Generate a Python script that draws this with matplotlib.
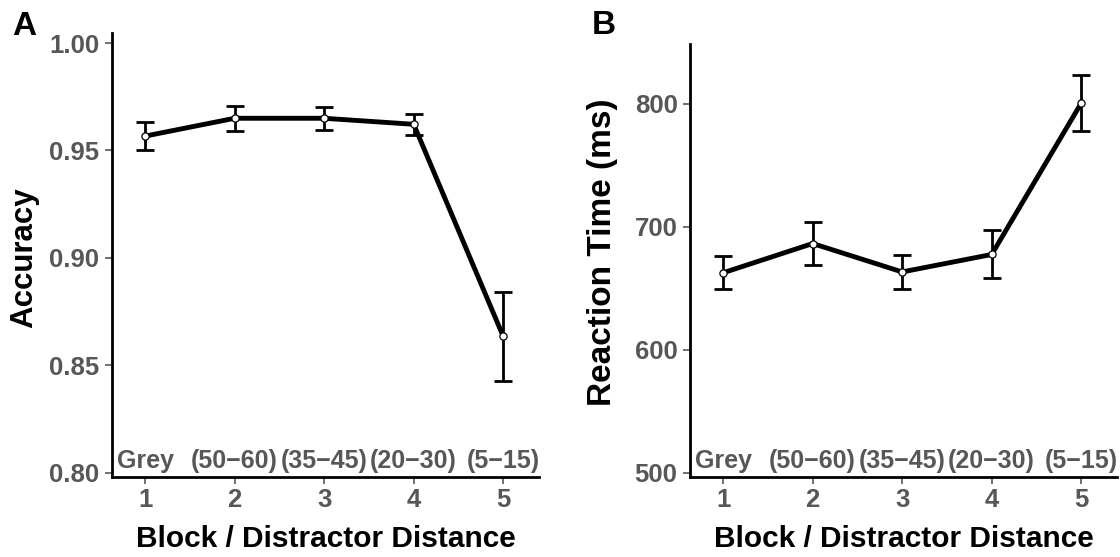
import matplotlib
matplotlib.use("Agg")
import matplotlib.pyplot as plt

plt.rcParams['font.family'] = ['Liberation Sans', 'DejaVu Sans']

blocks = [1, 2, 3, 4, 5]
conditions = ["Grey", "(50−60)", "(35−45)", "(20−30)", "(5−15)"]
acc_mean = [0.9567, 0.9650, 0.9650, 0.9622, 0.8635]
acc_err = [0.0066, 0.0058, 0.0054, 0.0050, 0.0206]
rt_mean = [662.5, 686.3, 663.2, 677.4, 800.4]
rt_err = [13.5, 17.5, 14.0, 19.5, 23.0]
acc_ticks = [0.80, 0.85, 0.90, 0.95, 1.00]
rt_ticks = [500, 600, 700, 800]

GREY = "#575757"
W, H = 1120, 557

fig = plt.figure(figsize=(11.2, 5.57), dpi=100)
axA = fig.add_axes([112/W, 1-477/H, 427/W, 444/H])
axB = fig.add_axes([690/W, 1-477/H, 427/W, 433/H])

def style(ax, ylim, yticks, yfmt, ylabel, ylab_xy, ylab_size):
    ax.set_xlim(0.63, 5.40)
    ax.set_ylim(*ylim)
    ax.set_yticks(yticks)
    ax.set_yticklabels([yfmt(v) for v in yticks])
    ax.set_xticks(blocks)
    ax.set_xticklabels([str(b) for b in blocks])
    for s in ["top", "right"]:
        ax.spines[s].set_visible(False)
    for s in ["left", "bottom"]:
        ax.spines[s].set_linewidth(2.0)
        ax.spines[s].set_color("black")
    ax.tick_params(axis="both", length=5, width=1.2, color=GREY,
                   labelcolor=GREY, labelsize=18.5)
    ax.tick_params(axis="y", pad=4)
    ax.tick_params(axis="x", pad=3)
    for lbl in ax.get_xticklabels() + ax.get_yticklabels():
        lbl.set_fontweight("bold")
    pos = ax.get_position()
    ax.set_xlabel("Block / Distractor Distance", fontsize=21.5, fontweight="bold")
    ax.xaxis.set_label_coords(0.5, -(539 - 477) / (pos.height * H),
                              transform=ax.transAxes)
    ax.xaxis.label.set_va("center")
    ax.set_ylabel(ylabel, fontsize=ylab_size, fontweight="bold")
    lx, ly = ylab_xy
    ax.yaxis.set_label_coords((lx - pos.x0 * W) / (pos.width * W),
                              (477 - ly) / (pos.height * H),
                              transform=ax.transAxes)
    ax.yaxis.label.set_va("center")
    for b, c in zip(blocks, conditions):
        ax.annotate(c, xy=(b, 0), xycoords=("data", "axes fraction"),
                    xytext=(0, 6.2), textcoords="offset points",
                    ha="center", va="baseline", fontsize=18, color=GREY,
                    fontweight="bold")

def draw(ax, mean, err):
    ax.errorbar(blocks, mean, yerr=err, fmt="none", ecolor="black",
                elinewidth=2.0, capsize=6.5, capthick=2.0, zorder=2)
    ax.plot(blocks, mean, color="black", lw=3.5, zorder=3)
    ax.plot(blocks, mean, ls="none", marker="o", ms=5.2, mfc="white",
            mec="black", mew=0.9, zorder=4)

draw(axA, acc_mean, acc_err)
style(axA, (0.798, 1.0047), acc_ticks, lambda v: f"{v:.2f}", "Accuracy",
      (24, 258), 22.5)
draw(axB, rt_mean, rt_err)
style(axB, (496.5, 848.5), rt_ticks, lambda v: f"{v:d}", "Reaction Time (ms)",
      (603, 252), 24)

fig.text(12/W, 1-35/H, "A", fontsize=24, fontweight="bold", va="baseline")
fig.text(592/W, 1-34/H, "B", fontsize=24, fontweight="bold", va="baseline")

fig.savefig("out.png", dpi=100)
